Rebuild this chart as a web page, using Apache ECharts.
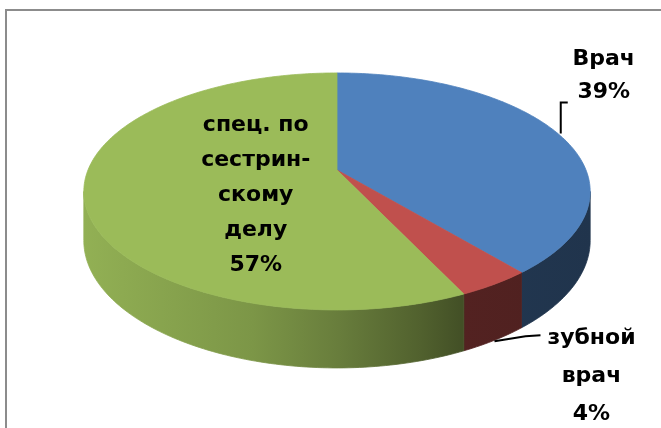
<!DOCTYPE html>
<html>
<head>
<meta charset="utf-8">
<script src="https://cdn.jsdelivr.net/npm/echarts@6/dist/echarts.min.js"></script>
<style>
  html, body { margin: 0; padding: 0; background: #ffffff; }
  #chart { width: 661px; height: 428px; }
</style>
</head>
<body>
<div id="chart"></div>
<script>
// Staff categories and their shares (percent)
const categories = ['Врач', 'зубной врач', 'спец. по сестринскому делу'];
const shares = [39, 4, 57];
// Label lines as they are wrapped on the chart (percent is appended)
const labelLines = [
  ['Врач'],
  ['зубной', 'врач'],
  ['спец. по', 'сестрин-', 'скому', 'делу']
];

const topColors = ['#4F81BD', '#C0504D', '#9BBB59'];
const FONT = '"DejaVu Sans", sans-serif';

// 3D pie geometry (tilted disc seen in perspective)
const CX = 337, CY = 170;      // apex of the slices
const RX = 249, RY = 114.6;    // projected radii
const PERSP = 0.181;           // perspective strength
const DEPTH = 47.5;            // disc thickness
const TH_R = Math.acos(-PERSP);            // right silhouette angle
const TH_L = 2 * Math.PI - TH_R;           // left silhouette angle

function proj(theta, t, dz) {
  const s = Math.sin(theta), c = Math.cos(theta);
  const den = 1 + PERSP * t * c;
  return [CX + RX * t * s / den, CY - RY * t * c / den + (dz || 0) / den];
}

function arc(a0, a1, dz) {
  const pts = [];
  const n = Math.max(2, Math.ceil((a1 - a0) / (Math.PI / 180)));
  for (let k = 0; k <= n; k++) pts.push(proj(a0 + (a1 - a0) * k / n, 1, dz));
  return pts;
}

function shade(hex, f) {
  const v = parseInt(hex.slice(1), 16);
  const r = Math.round(((v >> 16) & 255) * f);
  const g = Math.round(((v >> 8) & 255) * f);
  const b = Math.round((v & 255) * f);
  return 'rgb(' + r + ',' + g + ',' + b + ')';
}

function sideFill(hex) {
  const stops = [[0, 0.94], [0.33, 0.80], [0.5, 0.67], [0.66, 0.52], [0.74, 0.43], [1, 0.40]];
  return new echarts.graphic.LinearGradient(84, 0, 594, 0,
    stops.map(s => ({ offset: s[0], color: shade(hex, s[1]) })), true);
}

const total = shares.reduce((a, b) => a + b, 0);
const starts = [];
shares.reduce((acc, v, i) => { starts[i] = acc; return acc + v; }, 0);

function renderItem(params, api) {
  const i = params.dataIndex;
  const value = api.value(1);
  const a0 = starts[i] / total * 2 * Math.PI;
  const a1 = (starts[i] + value) / total * 2 * Math.PI;
  const mid = (a0 + a1) / 2;
  const children = [];

  // visible front wall
  const s0 = Math.max(a0, TH_R), s1 = Math.min(a1, TH_L);
  if (s1 > s0) {
    const topArc = arc(s0, s1, 0);
    const botArc = arc(s0, s1, DEPTH).reverse();
    const fill = sideFill(topColors[i]);
    children.push({
      type: 'polygon',
      shape: { points: topArc.concat(botArc) },
      style: { fill: fill, stroke: fill, lineWidth: 0.8 }
    });
  }

  // top face
  children.push({
    type: 'polygon',
    shape: { points: [[CX, CY]].concat(arc(a0, a1, 0)) },
    style: { fill: topColors[i], stroke: topColors[i], lineWidth: 0.8 }
  });

  const pct = Math.round(value / total * 100) + '%';
  const text = labelLines[i].concat([pct]).join('\n');
  const textStyle = {
    text: text, fill: '#000000', font: 'bold 22px ' + FONT,
    align: 'center', verticalAlign: 'middle', lineHeight: 35
  };

  if (i === 0) {
    const p = proj(mid, 1, 0);
    children.push({
      type: 'polyline',
      shape: { points: [[p[0] + 3, p[1]], [p[0] + 3, p[1] - 31], [p[0] + 10, p[1] - 31]] },
      style: { stroke: '#000000', lineWidth: 2, fill: null }
    });
    children.push({ type: 'text', x: p[0] + 46, y: p[1] - 58, style: Object.assign({}, textStyle, { lineHeight: 33 }) });
  } else if (i === 1) {
    const p = proj(mid, 1, DEPTH);
    children.push({
      type: 'polyline',
      shape: { points: [[p[0], p[1] + 1], [p[0] + 31, p[1] - 4], [p[0] + 46, p[1] - 5]] },
      style: { stroke: '#000000', lineWidth: 2, fill: null }
    });
    children.push({ type: 'text', x: p[0] + 97, y: p[1] + 36, style: Object.assign({}, textStyle, { lineHeight: 38 }) });
  } else {
    const p = proj(mid, 0.33, 0);
    children.push({ type: 'text', x: p[0], y: p[1] + 17, style: textStyle });
  }

  return { type: 'group', children: children };
}

const chart = echarts.init(document.getElementById('chart'), null, { renderer: 'canvas' });
chart.setOption({
  animation: false,
  backgroundColor: '#ffffff',
  graphic: [{
    type: 'rect', silent: true, z: -10,
    shape: { x: 6, y: 10, width: 720, height: 500 },
    style: { fill: null, stroke: '#8c8c8c', lineWidth: 2 }
  }],
  series: [{
    type: 'custom',
    coordinateSystem: 'none',
    name: 'Персонал',
    data: shares.map((v, i) => ({ name: categories[i], value: [i, v] })),
    renderItem: renderItem
  }]
});
</script>
</body>
</html>
